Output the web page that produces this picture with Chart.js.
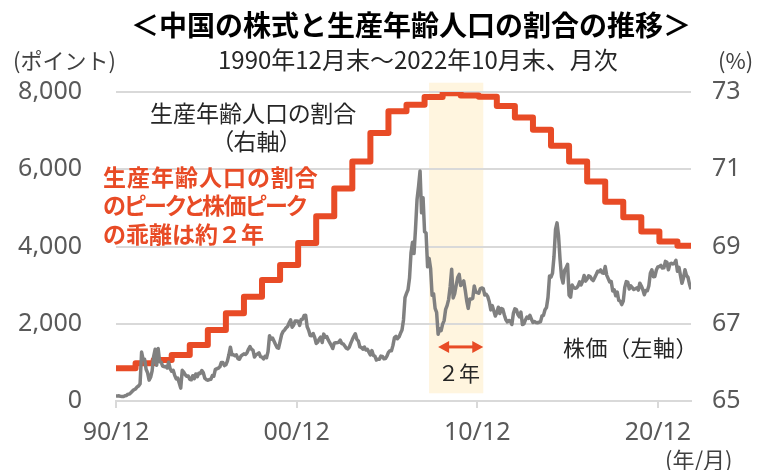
<!DOCTYPE html>
<html lang="ja">

<head>
    <meta charset="UTF-8">
    <title>中国の株式と生産年齢人口の割合の推移</title>
    <script src="https://cdn.jsdelivr.net/npm/chart.js"></script>
    <style>
        body { margin: 0; background: #fff; }
        .wrap { position: relative; width: 763px; height: 470px; overflow: hidden; }
        .txt { position: absolute; white-space: nowrap; line-height: 1; font-family: "Noto Sans CJK JP", sans-serif; color: #262626; }
        .title { left: 131px; top: 10px; font-size: 28px; font-weight: bold; color: #000; }
        .sub { left: 218px; top: 47px; font-size: 24px; }
        .unit { top: 48px; font-size: 22px; color: #404040; }
        .note { font-size: 23px; font-feature-settings: "palt"; }
        .red { color: #e84b26; font-weight: bold; font-size: 23px; }
    </style>
</head>

<body>
    <div class="wrap">
        <canvas id="grafico" width="763" height="470"></canvas>

        <div class="txt title">＜中国の株式と生産年齢人口の割合の推移＞</div>
        <div class="txt sub">1990年12月末～2022年10月末、月次</div>
        <div class="txt unit" style="left:13px">(ポイント)</div>
        <div class="txt unit" style="left:718px">(%)</div>

        <div class="txt note" style="left:150px; top:101px">生産年齢人口の割合</div>
        <div class="txt note" style="left:222px; top:129px">（右軸）</div>

        <div class="txt red" style="left:103px; top:165px; font-feature-settings:'palt'; letter-spacing:1px">生産年齢人口の割合</div>
        <div class="txt red" style="left:103px; top:193px; font-feature-settings:'palt'; letter-spacing:-1.5px">のピークと株価ピーク</div>
        <div class="txt red" style="left:103px; top:222px">の乖離は約２年</div>

        <div class="txt" style="left:563px; top:335px; font-size:22px; letter-spacing:0.5px">株価（左軸）</div>
        <div class="txt" style="left:438px; top:362px; font-size:21px">２年</div>
        <div class="txt unit" style="left:665px; top:447px">(年/月)</div>
    </div>
</body>

</html>

<script>
    // 上海総合指数 月末値 (1990/12 ～ 2022/10)
    var stock1990s = [
        128,
        130, 134, 120, 114, 115, 138, 144, 178, 181, 219, 260, 293,
        313, 364, 388, 445, 1266, 1080, 1080, 822, 728, 540, 615, 780,
        1151, 1340, 925, 1358, 1013, 1007, 903, 887, 896, 856, 1002, 834,
        770, 793, 665, 573, 593, 467, 334, 795, 750, 680, 640, 648,
        562, 549, 655, 580, 701, 630, 716, 713, 790, 730, 590, 555,
        537, 555, 561, 658, 645, 821, 835, 850, 885, 1000, 1000, 917,
        939, 1033, 1197, 1393, 1200, 1195, 1173, 1195, 1097, 1080, 1161, 1194,
        1222, 1206, 1244, 1340, 1411, 1339, 1315, 1137, 1195, 1218, 1248, 1147,
        1135, 1090, 1158, 1120, 1280, 1689, 1601, 1628, 1547, 1463, 1384, 1367
    ];
    var stock2000s = [
        1535, 1714, 1800, 1836, 1894, 1928, 2023, 2099, 1910, 1961, 2070, 2073,
        2065, 1959, 2112, 2119, 2214, 2218, 1920, 1834, 1698, 1690, 1747, 1646,
        1490, 1524, 1603, 1656, 1516, 1732, 1652, 1669, 1581, 1509, 1441, 1358,
        1499, 1511, 1510, 1521, 1577, 1487, 1477, 1421, 1367, 1349, 1397, 1497,
        1590, 1675, 1742, 1595, 1555, 1399, 1386, 1342, 1397, 1321, 1341, 1266,
        1191, 1306, 1181, 1159, 1060, 1080, 1083, 1162, 1155, 1092, 1099, 1161,
        1258, 1299, 1298, 1440, 1641, 1672, 1612, 1658, 1752, 1837, 2099, 2675,
        2786, 2881, 3183, 3841, 4109, 3820, 4471, 5218, 5552, 5954, 4871, 5262,
        4383, 4348, 3473, 3693, 3433, 2736, 2775, 2397, 2293, 1729, 1871, 1821,
        1991, 2082, 2373, 2477, 2633, 2959, 3412, 2667, 2779, 2996, 3195, 3277
    ];
    var stock2010s = [
        2989, 3052, 3110, 2871, 2593, 2398, 2638, 2639, 2656, 2979, 2820, 2808,
        2790, 2905, 2928, 2911, 2743, 2762, 2701, 2568, 2359, 2469, 2333, 2199,
        2292, 2428, 2263, 2397, 2373, 2225, 2103, 2047, 2086, 2069, 1980, 2269,
        2385, 2366, 2237, 2178, 2301, 1979, 1994, 2098, 2175, 2141, 2220, 2116,
        2033, 2056, 2033, 2026, 2039, 2048, 2201, 2217, 2364, 2420, 2683, 3235,
        3210, 3310, 3748, 4442, 4612, 4277, 3664, 3206, 3053, 3383, 3445, 3539,
        2738, 2688, 3004, 2938, 2917, 2930, 2979, 3085, 3005, 3100, 3250, 3104,
        3159, 3242, 3223, 3155, 3117, 3192, 3273, 3361, 3349, 3393, 3317, 3307,
        3481, 3259, 3169, 3082, 3095, 2847, 2876, 2725, 2821, 2603, 2588, 2494,
        2585, 2941, 3091, 3078, 2899, 2979, 2933, 2886, 2905, 2929, 2872, 3050
    ];
    var stock2020s = [
        2977, 2880, 2750, 2860, 2852, 2985, 3310, 3396, 3218, 3225, 3392, 3473,
        3483, 3509, 3442, 3447, 3615, 3591, 3397, 3544, 3568, 3547, 3564, 3640,
        3361, 3462, 3252, 3047, 3186, 3399, 3253, 3202, 3024, 2893
    ];

    // 生産年齢人口の割合 (%) 1991年～2022年、年次
    var shareFirstYear = 1991;
    var shareValues = [
        65.85, 65.98, 66.06, 66.19, 66.45, 66.84, 67.27, 67.70, 68.13, 68.52,
        69.09, 69.78, 70.50, 71.20, 71.94, 72.50, 72.67, 72.87, 72.97, 72.91,
        72.88, 72.64, 72.34, 72.02, 71.61, 71.20, 70.68, 70.16, 69.76, 69.39,
        69.13, 69.02
    ];

    // 目盛り (1990/12 からの月数)
    var tickMonths = [0, 120, 240, 360];
    var tickLabels = ["90/12", "00/12", "10/12", "20/12"];

    // 網掛けと矢印 (月数、左軸の値)
    var shadeFrom = 208, shadeTo = 244, shadeTop = 8240, shadeBottom = 200;
    var arrowFrom = 214, arrowTo = 244, arrowLevel = 1400;

    var stock = stock1990s.concat(stock2000s, stock2010s, stock2020s);
    var lastMonth = stock.length - 1;

    var stockPoints = [];
    for (var i = 0; i < stock.length; i++) {
        stockPoints.push({ x: i, y: stock[i] });
    }

    var sharePoints = [];
    for (var k = 0; k < shareValues.length; k++) {
        var inicio = (shareFirstYear + k - 1991) * 12 + 1;
        sharePoints.push({ x: k == 0 ? 0 : inicio, y: shareValues[k] });
    }
    sharePoints.push({ x: lastMonth, y: shareValues[shareValues.length - 1] });

    var cinza = "#595959";
    var fonteNum = { family: "'Noto Sans', sans-serif", size: 25 };

    var extras = {
        id: "extras",
        beforeDraw: function (chart) {
            var ctx = chart.ctx, x = chart.scales.x, y = chart.scales.y;
            var x0 = x.getPixelForValue(shadeFrom), x1 = x.getPixelForValue(shadeTo);
            var y0 = y.getPixelForValue(shadeTop), y1 = y.getPixelForValue(shadeBottom);
            ctx.save();
            ctx.fillStyle = "#fff5df";
            ctx.fillRect(x0, y0, x1 - x0, y1 - y0);
            ctx.restore();
        },
        afterDatasetsDraw: function (chart) {
            var ctx = chart.ctx, x = chart.scales.x, y = chart.scales.y;
            var a = x.getPixelForValue(arrowFrom), b = x.getPixelForValue(arrowTo);
            var yy = y.getPixelForValue(arrowLevel);
            ctx.save();
            ctx.strokeStyle = "#e84b26";
            ctx.fillStyle = "#e84b26";
            ctx.lineWidth = 3;
            ctx.beginPath();
            ctx.moveTo(a + 8, yy);
            ctx.lineTo(b - 8, yy);
            ctx.stroke();
            ctx.beginPath();
            ctx.moveTo(a, yy); ctx.lineTo(a + 11, yy - 6); ctx.lineTo(a + 11, yy + 6); ctx.closePath();
            ctx.moveTo(b, yy); ctx.lineTo(b - 11, yy - 6); ctx.lineTo(b - 11, yy + 6); ctx.closePath();
            ctx.fill();
            ctx.restore();
        }
    };

    new Chart(document.getElementById("grafico"), {
        type: "line",
        data: {
            datasets: [{
                label: "株価",
                data: stockPoints,
                yAxisID: "y",
                borderColor: "#808080",
                borderWidth: 3.5,
                borderJoinStyle: "round",
                pointRadius: 0,
                tension: 0
            }, {
                label: "生産年齢人口の割合",
                data: sharePoints,
                yAxisID: "y1",
                borderColor: "#e84b26",
                borderWidth: 6,
                borderJoinStyle: "round",
                pointRadius: 0,
                stepped: true
            }]
        },
        options: {
            responsive: false,
            animation: false,
            layout: { padding: { top: 92 } },
            plugins: { legend: { display: false }, tooltip: { enabled: false } },
            scales: {
                x: {
                    type: "linear",
                    min: 0,
                    max: lastMonth,
                    afterBuildTicks: function (s) {
                        s.ticks = tickMonths.map(function (v) { return { value: v }; });
                    },
                    afterFit: function (s) { s.height = 69; },
                    ticks: {
                        autoSkip: false,
                        maxRotation: 0,
                        padding: 10,
                        color: cinza,
                        font: fonteNum,
                        callback: function (v) { return tickLabels[tickMonths.indexOf(v)]; }
                    },
                    grid: { drawOnChartArea: false, color: "#d9d9d9", lineWidth: 2, tickLength: 7 },
                    border: { color: "#d9d9d9", width: 2 }
                },
                y: {
                    position: "left",
                    min: 0,
                    max: 8000,
                    afterFit: function (s) { s.width = 116; },
                    ticks: {
                        stepSize: 2000,
                        padding: 34,
                        color: cinza,
                        font: fonteNum,
                        callback: function (v) { return v.toLocaleString("en-US"); }
                    },
                    grid: { color: "#d9d9d9", lineWidth: 2, drawTicks: false },
                    border: { display: false }
                },
                y1: {
                    position: "right",
                    min: 65,
                    max: 73,
                    afterFit: function (s) { s.width = 72; },
                    ticks: { stepSize: 2, padding: 21, color: cinza, font: fonteNum },
                    grid: { drawOnChartArea: false, drawTicks: false },
                    border: { display: false }
                }
            }
        },
        plugins: [extras]
    });
</script>
